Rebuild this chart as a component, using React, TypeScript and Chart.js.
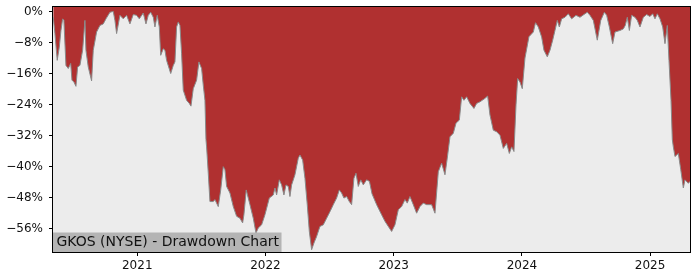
import React, { useEffect, useRef } from "react";
import { Chart, registerables } from "chart.js";

Chart.register(...registerables);

const TITLE = "GKOS (NYSE) - Drawdown Chart";

// decimal years
const DATES = [
  2020.345, 2020.358, 2020.376, 2020.392, 2020.405, 2020.418, 2020.428, 2020.444, 2020.462, 2020.481,
  2020.491, 2020.506, 2020.522, 2020.535, 2020.553, 2020.574, 2020.592, 2020.600, 2020.618, 2020.644,
  2020.657, 2020.683, 2020.709, 2020.735, 2020.756, 2020.787, 2020.813, 2020.826, 2020.839, 2020.865,
  2020.891, 2020.917, 2020.943, 2020.969, 2020.995, 2021.016, 2021.047, 2021.068, 2021.086, 2021.105,
  2021.125, 2021.138, 2021.156, 2021.172, 2021.183, 2021.203, 2021.216, 2021.229, 2021.261, 2021.281,
  2021.294, 2021.307, 2021.320, 2021.333, 2021.346, 2021.359, 2021.385, 2021.406, 2021.419, 2021.437,
  2021.463, 2021.481, 2021.502, 2021.515, 2021.528, 2021.536, 2021.541, 2021.554, 2021.567, 2021.593,
  2021.606, 2021.632, 2021.651, 2021.671, 2021.684, 2021.697, 2021.723, 2021.749, 2021.775, 2021.801,
  2021.822, 2021.832, 2021.850, 2021.879, 2021.905, 2021.926, 2021.944, 2021.970, 2021.996, 2022.030,
  2022.061, 2022.074, 2022.087, 2022.108, 2022.126, 2022.144, 2022.160, 2022.178, 2022.191, 2022.204,
  2022.230, 2022.256, 2022.269, 2022.290, 2022.308, 2022.326, 2022.342, 2022.360, 2022.378, 2022.399,
  2022.425, 2022.451, 2022.477, 2022.503, 2022.529, 2022.555, 2022.576, 2022.594, 2022.612, 2022.633,
  2022.654, 2022.672, 2022.690, 2022.706, 2022.724, 2022.743, 2022.763, 2022.789, 2022.811, 2022.831,
  2022.867, 2022.906, 2022.932, 2022.958, 2022.984, 2023.010, 2023.036, 2023.062, 2023.088, 2023.106,
  2023.127, 2023.153, 2023.179, 2023.205, 2023.231, 2023.257, 2023.296, 2023.322, 2023.348, 2023.374,
  2023.400, 2023.418, 2023.439, 2023.465, 2023.486, 2023.512, 2023.530, 2023.548, 2023.569, 2023.595,
  2023.626, 2023.647, 2023.673, 2023.712, 2023.733, 2023.751, 2023.777, 2023.803, 2023.829, 2023.855,
  2023.881, 2023.902, 2023.920, 2023.938, 2023.954, 2023.967, 2023.985, 2024.003, 2024.024, 2024.055,
  2024.089, 2024.106, 2024.128, 2024.154, 2024.172, 2024.198, 2024.219, 2024.240, 2024.258, 2024.276,
  2024.292, 2024.310, 2024.336, 2024.362, 2024.388, 2024.422, 2024.453, 2024.492, 2024.510, 2024.531,
  2024.557, 2024.588, 2024.615, 2024.643, 2024.661, 2024.682, 2024.708, 2024.726, 2024.765, 2024.791,
  2024.806, 2024.822, 2024.838, 2024.856, 2024.882, 2024.900, 2024.921, 2024.947, 2024.973, 2024.999,
  2025.020, 2025.038, 2025.056, 2025.077, 2025.098, 2025.116, 2025.134, 2025.147, 2025.163, 2025.173,
  2025.181, 2025.194, 2025.220, 2025.239, 2025.259, 2025.272, 2025.298, 2025.311,
];

// drawdown in percent
const DRAWDOWN = [
  -1.5, -5.7, -12.6, -9.2, -4.9, -1.9, -2.3, -13.9, -14.7, -13.4,
  -17.7, -18.2, -19.3, -14.3, -13.9, -10.0, -2.3, -10.0, -14.3, -17.9,
  -10.0, -5.3, -3.6, -3.2, -1.9, -0.2, 0.0, -2.3, -5.7, -1.0,
  -1.9, -1.0, -3.2, -0.8, -1.0, -1.9, -0.4, -3.2, -1.0, -0.2,
  -1.5, -4.0, -1.0, -4.0, -11.3, -9.6, -10.0, -12.6, -16.0, -13.9,
  -13.0, -4.0, -2.7, -3.6, -10.9, -20.3, -22.9, -23.7, -24.4, -19.9,
  -17.7, -13.0, -14.7, -19.0, -22.9, -33.0, -34.9, -41.7, -49.0, -49.0,
  -48.5, -50.3, -46.0, -40.0, -40.8, -45.1, -46.8, -50.3, -52.8, -53.3,
  -54.5, -52.4, -46.0, -49.8, -53.3, -57.1, -55.8, -55.0, -52.4, -48.1,
  -47.3, -45.5, -47.3, -43.4, -44.7, -47.3, -44.7, -45.1, -47.7, -44.7,
  -42.1, -37.8, -37.0, -38.3, -43.0, -49.8, -56.7, -61.4, -59.7, -58.0,
  -55.4, -55.0, -53.3, -51.6, -49.8, -48.1, -46.0, -46.8, -48.1, -47.7,
  -49.0, -49.8, -43.0, -41.7, -45.1, -43.4, -44.7, -43.4, -43.8, -47.0,
  -49.8, -52.4, -54.1, -55.4, -56.7, -55.0, -51.1, -50.3, -48.5, -49.4,
  -47.7, -49.8, -52.0, -50.3, -49.4, -49.8, -49.8, -52.0, -41.3, -39.1,
  -42.1, -37.8, -32.3, -31.4, -28.8, -28.0, -22.0, -22.9, -22.0, -23.7,
  -25.0, -23.7, -23.3, -22.4, -21.8, -26.7, -30.6, -31.0, -31.9, -35.3,
  -34.0, -36.6, -34.9, -36.1, -24.1, -17.3, -18.2, -19.9, -12.0, -6.5,
  -5.3, -2.9, -4.0, -6.6, -10.0, -11.7, -10.0, -7.4, -4.9, -2.3,
  -4.0, -1.9, -1.5, -0.6, -1.9, -1.0, -1.5, -0.6, -0.2, -1.0,
  -2.3, -7.4, -2.3, -0.2, -1.0, -4.0, -8.3, -5.3, -4.9, -4.5,
  -3.6, -1.5, -4.9, -1.0, -1.5, -2.3, -4.0, -1.5, -0.8, -1.3,
  -0.6, -1.9, -0.6, -1.9, -4.0, -8.3, -3.6, -12.6, -22.9, -33.0,
  -34.9, -37.4, -36.6, -40.8, -45.5, -43.4, -44.3, -43.8,
];

const X_TICKS = [2021, 2022, 2023, 2024, 2025];
const Y_TICKS = [0, -8, -16, -24, -32, -40, -48, -56];
const X_MIN = 2020.343;
const X_MAX = 2025.311;
const Y_MIN = -62.0;
const Y_MAX = 1.15;

const FONT = "'DejaVu Sans', sans-serif";

export default function App() {
  const ref = useRef<HTMLCanvasElement>(null);

  useEffect(() => {
    const canvas = ref.current;
    if (!canvas) return;

    const decor = {
      id: "decor",
      beforeDatasetsDraw(chart: any) {
        const { ctx, chartArea: a } = chart;
        ctx.save();
        ctx.fillStyle = "#ececec";
        ctx.fillRect(a.left, a.top, a.right - a.left, a.bottom - a.top);
        ctx.restore();
      },
      afterDatasetsDraw(chart: any) {
        const { ctx, chartArea: a } = chart;
        ctx.save();
        ctx.font = `14px ${FONT}`;
        const w = ctx.measureText(TITLE).width;
        const h = 19.5;
        ctx.fillStyle = "#b4b4b4";
        ctx.fillRect(a.left, a.bottom - h, w + 6, h);
        ctx.fillStyle = "#111";
        ctx.textBaseline = "middle";
        ctx.textAlign = "left";
        ctx.fillText(TITLE, a.left + 3.5, a.bottom - h / 2 + 0.5);
        ctx.restore();
      },
      afterDraw(chart: any) {
        const { ctx, chartArea: a } = chart;
        ctx.save();
        ctx.strokeStyle = "#000";
        ctx.lineWidth = 1;
        ctx.strokeRect(
          Math.round(a.left) - 0.5,
          Math.round(a.top) - 0.5,
          Math.round(a.right - a.left) + 1,
          Math.round(a.bottom - a.top) + 1
        );
        ctx.restore();
      },
    };

    const chart = new Chart(canvas, {
      type: "line",
      data: {
        datasets: [
          {
            data: DATES.map((d, i) => ({ x: d, y: DRAWDOWN[i] })),
            borderColor: "#8a8a8a",
            borderWidth: 1,
            backgroundColor: "#b03030",
            fill: "end",
            pointRadius: 0,
            tension: 0,
          },
        ],
      },
      options: {
        responsive: false,
        animation: false,
        events: [],
        layout: { padding: { top: 7, right: 10, left: 0, bottom: 0 } },
        plugins: { legend: { display: false }, tooltip: { enabled: false } },
        scales: {
          x: {
            type: "linear",
            min: X_MIN,
            max: X_MAX,
            afterBuildTicks: (s: any) => {
              s.ticks = X_TICKS.map((v) => ({ value: v }));
            },
            afterFit: (s: any) => {
              s.height = 28;
              s.paddingLeft = 0;
              s.paddingRight = 0;
            },
            ticks: {
              callback: (v: any) => String(v),
              font: { family: FONT, size: 12 },
              color: "#111",
              padding: 3,
              maxRotation: 0,
              autoSkip: false,
            },
            grid: {
              drawOnChartArea: false,
              drawTicks: true,
              tickLength: 4,
              color: "#000",
            },
            border: { display: false },
          },
          y: {
            type: "linear",
            min: Y_MIN,
            max: Y_MAX,
            afterBuildTicks: (s: any) => {
              s.ticks = Y_TICKS.map((v) => ({ value: v }));
            },
            afterFit: (s: any) => {
              s.width = 53;
              s.paddingTop = 0;
              s.paddingBottom = 0;
            },
            ticks: {
              callback: (v: any) => (v < 0 ? "\u2212" + Math.abs(v) : String(v)) + "%",
              font: { family: FONT, size: 12 },
              color: "#111",
              padding: 6,
              autoSkip: false,
            },
            grid: {
              drawOnChartArea: false,
              drawTicks: true,
              tickLength: 4,
              color: "#000",
            },
            border: { display: false },
          },
        },
      },
      plugins: [decor],
    });

    return () => chart.destroy();
  }, []);

  return (
    <canvas
      ref={ref}
      width={700}
      height={280}
      style={{ position: "fixed", left: 0, top: 0, width: 700, height: 280, background: "#fff" }}
    />
  );
}
